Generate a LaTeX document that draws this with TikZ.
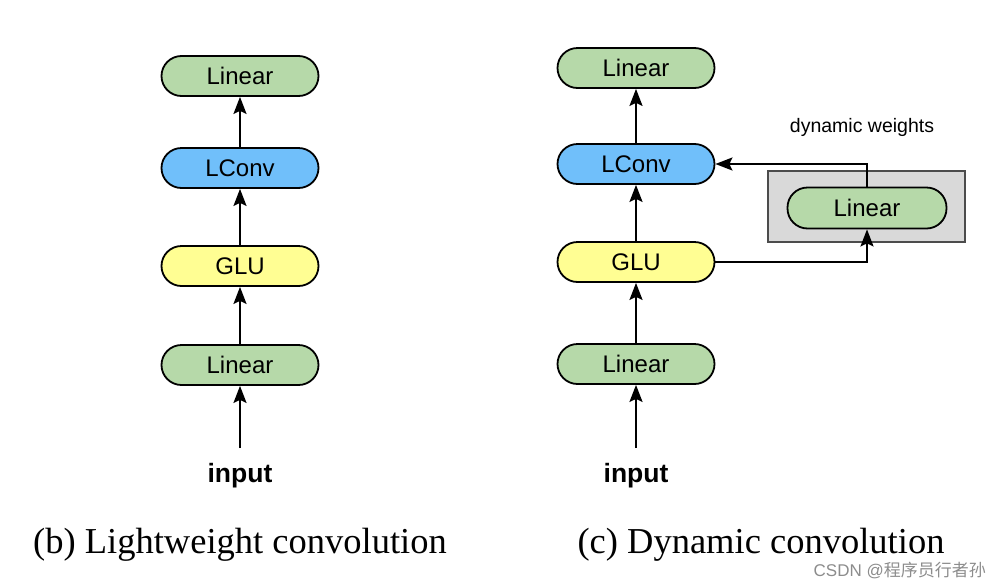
\documentclass[tikz,border=0pt]{standalone}
\usepackage{fontspec}
\setmainfont{Liberation Serif}
\setsansfont{Liberation Sans}
\newfontfamily\cjkfont{Noto Sans CJK SC}
\usetikzlibrary{arrows.meta}
\definecolor{lgreen}{HTML}{B6D9A9}
\definecolor{lblue}{HTML}{70BFFA}
\definecolor{lyellow}{HTML}{FFFE93}
\definecolor{boxgray}{HTML}{D9D9D9}
\tikzset{
  blk/.style={draw=black, line width=1.8pt, rounded corners=20pt, minimum width=157pt, minimum height=40pt, inner sep=0pt, font=\sffamily\fontsize{24}{26}\selectfont},
  arr/.style={line width=1.8pt, -{Stealth[length=17pt,width=13pt,inset=3pt]}},
  inlbl/.style={font=\sffamily\bfseries\fontsize{26.5}{28}\selectfont},
  captxt/.style={font=\rmfamily\fontsize{36.5}{40}\selectfont, inner sep=0pt}
}
\begin{document}
\begin{tikzpicture}[x=1pt,y=-1pt]
\useasboundingbox (0,0) rectangle (998,584);
% left column
\node[blk, fill=lgreen] (l4) at (240,76) {Linear};
\node[blk, fill=lblue] (l3) at (240,168) {LConv};
\node[blk, fill=lyellow] (l2) at (240,266) {GLU};
\node[blk, fill=lgreen] (l1) at (240,365) {Linear};
\coordinate (lin) at (240,448);
\node[inlbl] (linp) at (240,476) {input};
\draw[arr] (lin) -- (l1);
\draw[arr] (l1) -- (l2);
\draw[arr] (l2) -- (l3);
\draw[arr] (l3) -- (l4);
\node[captxt] (lcap) at (240,545) {(b) Lightweight convolution};
% right column
\node[draw=black!70, line width=1.8pt, fill=boxgray, minimum width=197pt, minimum height=71pt] (gbox) at (866.5,206.5) {};
\node[blk, fill=lgreen] (r4) at (636,68) {Linear};
\node[blk, fill=lblue] (r3) at (636,164) {LConv};
\node[blk, fill=lyellow] (r2) at (636,262) {GLU};
\node[blk, fill=lgreen] (r1) at (636,364) {Linear};
\node[blk, fill=lgreen, minimum width=159pt, minimum height=41pt] (dw) at (867,208) {Linear};
\node[font=\sffamily\fontsize{19.5}{21}\selectfont] (dwl) at (862,127) {dynamic weights};
\coordinate (rin) at (636,448);
\node[inlbl] (rinp) at (636,476) {input};
\draw[arr] (rin) -- (r1);
\draw[arr] (r1) -- (r2);
\draw[arr] (r2) -- (r3);
\draw[arr] (r3) -- (r4);
\draw[arr] (r2.east) -| (dw.south);
\draw[arr] (dw.north) |- (r3.east);
\node[captxt] (rcap) at (761,545) {(c) Dynamic convolution};
\node[text=black!45, font=\fontsize{17}{19}\selectfont, anchor=east, inner sep=0pt] (wm) at (986,570) {\sffamily CSDN @\cjkfont 程序员行者孙};
\end{tikzpicture}
\end{document}
